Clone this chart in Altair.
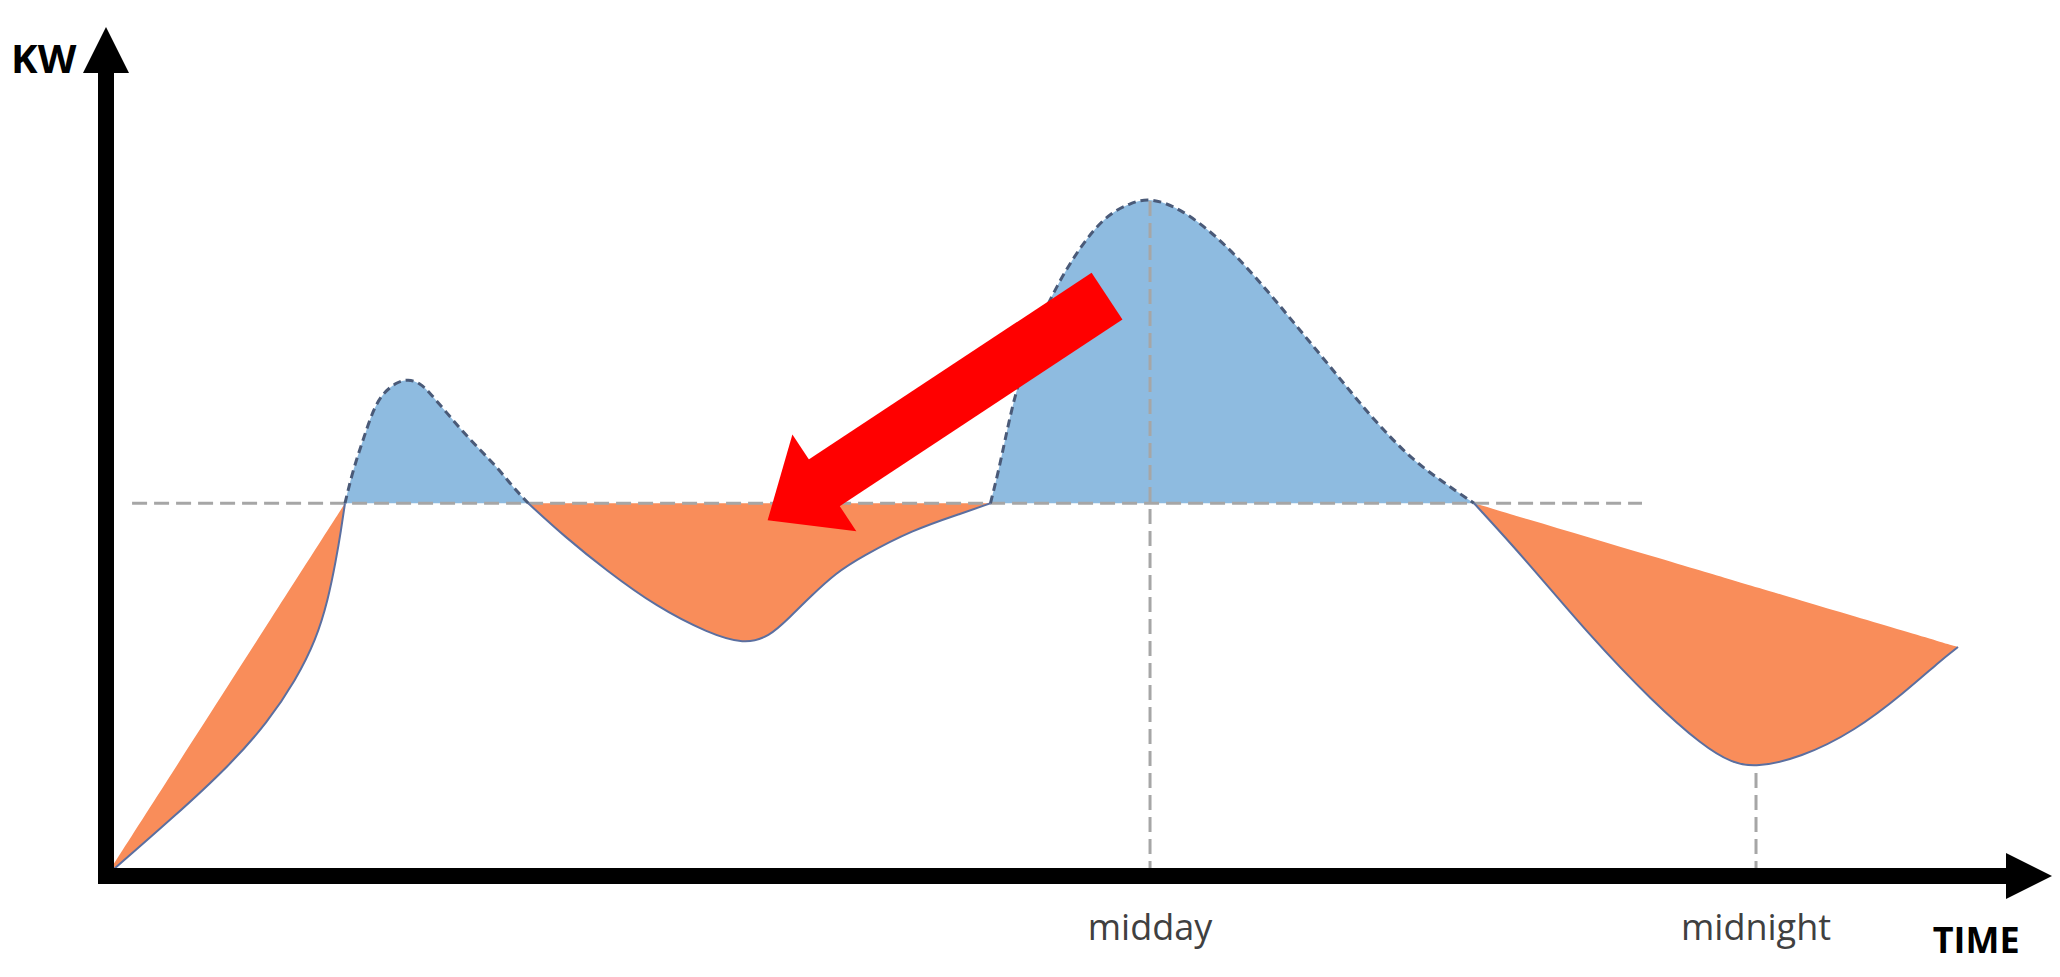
import math
import altair as alt
import pandas as pd

# ---------------- data (conceptual units: TIME 0-100 along x, KW 0-100 along y) -------------
curve_x = [0.0, 3.60, 6.37, 8.32, 9.76, 10.79, 11.41, 11.82, 12.08, 12.28,
           12.69, 13.21, 13.72, 14.23, 14.95, 15.52, 16.14, 16.65, 17.52, 18.35, 19.22, 20.09, 20.91, 21.70,
           23.59, 25.69, 28.31, 30.94, 32.79, 34.07, 35.15, 36.18, 37.51, 38.80, 41.42, 44.04, 45.45,
           45.84, 46.20, 46.61, 47.17, 47.89, 48.87, 50.05, 51.34, 52.62, 53.65,
           55.19, 57.14, 59.10, 61.05, 63.05, 65.01, 66.96, 68.55, 70.30,
           72.97, 76.21, 79.50, 82.07, 83.56, 84.79, 87.05, 89.88, 92.45, 94.19, 95.17]
curve_y = [0.0, 7.18, 13.07, 18.14, 23.09, 27.80, 32.51, 37.22, 40.75, 43.9,
           47.82, 51.35, 54.89, 56.89, 58.19, 58.54, 58.07, 56.89, 54.53, 52.30, 50.18, 48.17, 45.82, 43.9,
           39.93, 36.04, 31.68, 28.62, 27.30, 28.15, 30.51, 32.86, 35.69, 37.57, 40.75, 42.76, 43.9,
           47.47, 51.35, 55.71, 60.19, 64.90, 69.61, 74.09, 77.74, 79.27, 79.90,
           78.68, 75.27, 70.55, 65.14, 59.60, 54.06, 49.35, 46.64, 43.9,
           37.22, 28.39, 20.49, 15.31, 13.30, 12.80, 13.90, 17.08, 21.67, 25.21, 26.97]
threshold = 43.9
threshold_span = [1.34, 78.93]

marker_labels = ["midday", "midnight"]
marker_x = [53.65, 84.79]
marker_top = [79.6, 13.1]

arrow_tip = [34.0, 41.9]
arrow_tail = [51.44, 68.3]

# ---------------- scale geometry ----------------
X_RANGE = [98, 2044]
Y_RANGE = [868, 19]
XPU = (X_RANGE[1] - X_RANGE[0]) / 100.0
YPU = (Y_RANGE[0] - Y_RANGE[1]) / 100.0
XS = alt.Scale(domain=[0, 100], range=X_RANGE, nice=False, zero=False)
YS = alt.Scale(domain=[0, 100], range=Y_RANGE, nice=False, zero=False)
CURVE = "basis"

def X(f="x"):
    return alt.X(f + ":Q", scale=XS, axis=None)

def Y(f="y"):
    return alt.Y(f + ":Q", scale=YS, axis=None, stack=None)

# ---------------- split curve into above / below threshold segments ----------------
segments = []
cur = []
n = len(curve_x)
for i in range(n):
    cur.append((curve_x[i], curve_y[i]))
    if curve_y[i] == threshold and 0 < i < n - 1:
        segments.append(cur)
        cur = [(curve_x[i], curve_y[i])]
segments.append(cur)

above_rows, below_rows = [], []
for sid, seg in enumerate(segments):
    ys = [p[1] for p in seg]
    if max(ys) > threshold:
        for x, y in seg:
            above_rows.append({"seg": sid, "x": x, "y": y, "base": threshold})
    else:
        (x0, y0), (x1, y1) = seg[0], seg[-1]
        for x, y in seg:
            t = (x - x0) / (x1 - x0)
            below_rows.append({"seg": sid, "x": x, "y": y, "upper": y0 + t * (y1 - y0)})
above = pd.DataFrame(above_rows)
below = pd.DataFrame(below_rows)

blue_area = alt.Chart(above).mark_area(interpolate=CURVE, color="#8EBBE0", opacity=1).encode(
    x=X(), y=Y("y"), y2="base:Q", detail="seg:N")
orange_area = alt.Chart(below).mark_area(interpolate=CURVE, color="#F98D5A", opacity=1).encode(
    x=X(), y=Y("upper"), y2="y:Q", detail="seg:N")

thr_df = pd.DataFrame({"x": [threshold_span[0]], "x2": [threshold_span[1]], "y": [threshold]})
thr_line = alt.Chart(thr_df).mark_rule(color="#A6A6A6", strokeWidth=3, strokeDash=[15, 7]).encode(
    x=X(), x2="x2:Q", y=Y())

mk = pd.DataFrame({"label": marker_labels, "x": marker_x, "top": marker_top,
                   "zero": [0.0] * len(marker_x), "ly": [-6.3] * len(marker_x)})
mk_lines = alt.Chart(mk).mark_rule(color="#A6A6A6", strokeWidth=3, strokeDash=[15, 7]).encode(
    x=X(), y=Y("zero"), y2="top:Q")
mk_text = alt.Chart(mk).mark_text(font="Open Sans", fontSize=36, color="#404040",
                                  align="center", baseline="middle").encode(
    x=X(), y=Y("ly"), text="label:N")

above_line = alt.Chart(above).mark_line(interpolate=CURVE, color="#4A5A78", strokeWidth=3,
                                        strokeDash=[8, 5]).encode(x=X(), y=Y(), detail="seg:N")
below_line = alt.Chart(below).mark_line(interpolate=CURVE, color="#5B6FA0", strokeWidth=2).encode(
    x=X(), y=Y(), detail="seg:N")

# ---------------- red arrow ----------------
dxp = (arrow_tip[0] - arrow_tail[0]) * XPU
dyp = -(arrow_tip[1] - arrow_tail[1]) * YPU
L = math.hypot(dxp, dyp)
head_len, head_half, shaft_w = 68, 58, 56
f = 60.0 / L
shaft_end = [arrow_tip[0] + f * (arrow_tail[0] - arrow_tip[0]),
             arrow_tip[1] + f * (arrow_tail[1] - arrow_tip[1])]
ang = math.degrees(math.atan2(dyp, dxp)) % 360
shaft_df = pd.DataFrame({"x": [arrow_tail[0]], "y": [arrow_tail[1]],
                         "x2": [shaft_end[0]], "y2": [shaft_end[1]]})
shaft = alt.Chart(shaft_df).mark_rule(color="#FF0000", strokeWidth=shaft_w, strokeCap="butt").encode(
    x=X(), y=Y(), x2="x2:Q", y2="y2:Q")
k = head_len / head_half
head_df = pd.DataFrame({"x": [arrow_tip[0]], "y": [arrow_tip[1]]})
head = alt.Chart(head_df).mark_point(shape=f"M0,0L{-k:.3f},-1L{-k:.3f},1Z", filled=True, opacity=1,
                                     size=(2 * head_half) ** 2, angle=ang, color="#FF0000",
                                     strokeWidth=0).encode(x=X(), y=Y())

# ---------------- axes with arrows ----------------
ah_w, ah_len = 23, 46
ax_df = pd.DataFrame({"x": [0.0, 0.0], "y": [0.0, 0.0],
                      "x2": [0.0, 100 - (ah_len - 3) / XPU], "y2": [100 - (ah_len - 3) / YPU, 0.0]})
axes = alt.Chart(ax_df).mark_rule(color="black", strokeWidth=16, strokeCap="square").encode(
    x=X(), y=Y(), x2="x2:Q", y2="y2:Q")
kk = ah_len / ah_w
yhead = alt.Chart(pd.DataFrame({"x": [0.0], "y": [100.0]})).mark_point(
    shape=f"M0,0L1,{kk:.3f}L-1,{kk:.3f}Z", filled=True, opacity=1, size=(2 * ah_w) ** 2,
    color="black", strokeWidth=0).encode(x=X(), y=Y())
xhead = alt.Chart(pd.DataFrame({"x": [100.0], "y": [0.0]})).mark_point(
    shape=f"M0,0L{-kk:.3f},-1L{-kk:.3f},1Z", filled=True, opacity=1, size=(2 * ah_w) ** 2,
    color="black", strokeWidth=0).encode(x=X(), y=Y())

titles = pd.DataFrame({"label": ["KW", "TIME"], "x": [-3.2, 96.1], "y": [96.0, -7.8],
                       "size": [40, 36]})
title_text = alt.Chart(titles).mark_text(font="Open Sans", fontWeight="bold",
                                         color="black", align="center", baseline="middle").encode(
    x=X(), y=Y(), text="label:N",
    size=alt.Size("size:Q", scale=None, legend=None))

chart = alt.layer(
    blue_area, orange_area, thr_line, mk_lines, above_line, below_line,
    shaft, head, axes, yhead, xhead, mk_text, title_text
).properties(
    width=2044, height=955, padding=0, autosize=alt.AutoSizeParams(type="none"),
    background="white"
).configure_view(stroke=None)

chart.save("out.html", embed_options={"renderer": "svg", "actions": False})
